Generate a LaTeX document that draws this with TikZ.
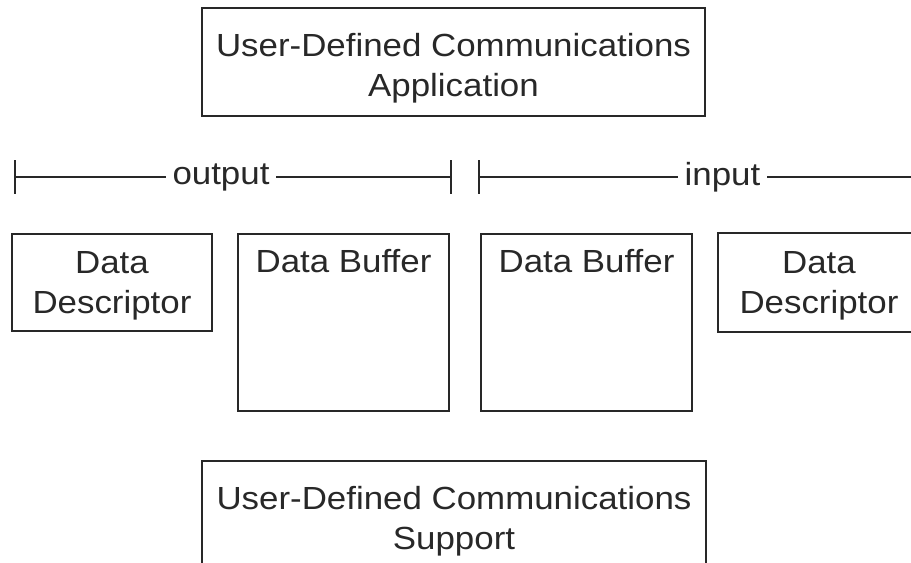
\documentclass[tikz,border=0pt]{standalone}
\usepackage{fontspec}
\setmainfont[FakeStretch=1.09]{Liberation Sans}
\usetikzlibrary{arrows.meta}
\definecolor{ink}{RGB}{40,40,40}
\newcommand\diafont{\fontsize{24}{30}\selectfont}
\tikzset{
  box/.style={draw=ink,line width=1.2pt,inner sep=0pt},
  boxtext/.style={align=center,inner sep=0pt,font=\diafont,text=ink},
  buffer/.style={box,minimum width=158.25pt,minimum height=132.75pt,
    label={[boxtext,anchor=north,yshift=-12pt]north:Data Buffer}},
  spanline/.style={draw=ink,line width=1.2pt},
  spanlbl/.style={text=ink,font=\diafont,inner xsep=5pt,inner ysep=0pt},
}

\begin{document}
\begin{tikzpicture}[x=0.75pt,y=-0.75pt]
  \useasboundingbox (0,0) rectangle (911,563);
  \node[box,minimum width=377.25pt,minimum height=81pt,
    label={[boxtext,yshift=-5pt]center:{User-Defined Communications\\Application}}] (app) at (453.5,62) {};
  % output span
  \coordinate (outL) at (14,177);
  \coordinate (outR) at (452,177);
  \node[spanlbl] (outlbl) at (221,177) {output};
  \draw[spanline,{Bar[width=25pt]}-] (outL) -- (outlbl);
  \draw[spanline,-{Bar[width=25pt]}] (outlbl) -- (outR);
  % input span
  \coordinate (inL) at (478,177);
  \coordinate (inR) at (930,177);
  \node[spanlbl] (inlbl) at (722.5,177) {input};
  \draw[spanline,{Bar[width=25pt]}-] (inL) -- (inlbl);
  \draw[spanline] (inlbl) -- (inR);
  % descriptors and buffers
  \node[box,minimum width=150pt,minimum height=72.75pt,
    label={[boxtext,yshift=-2.5pt]center:{Data\\Descriptor}}] (outdesc) at (112,282.5) {};
  \node[buffer] (outbuf) at (343.5,322.5) {};
  \node[buffer] (inbuf) at (586.5,322.5) {};
  \node[box,minimum width=151.5pt,minimum height=74.25pt,
    label={[boxtext,yshift=-2.5pt]center:{Data\\Descriptor}}] (indesc) at (819,282.5) {};
  \node[box,minimum width=378pt,minimum height=81pt,
    label={[boxtext,yshift=-5pt]center:{User-Defined Communications\\Support}}] (support) at (454,515) {};
\end{tikzpicture}
\end{document}
